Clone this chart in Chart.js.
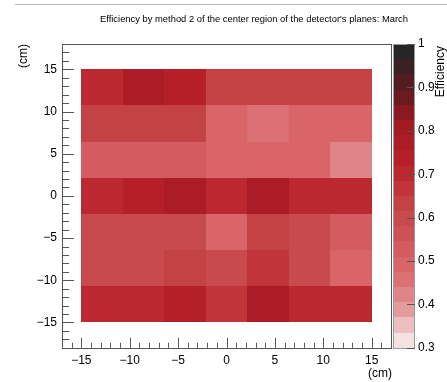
<!DOCTYPE html>
<html>
<head>
<meta charset="utf-8">
<script src="https://cdn.jsdelivr.net/npm/chart.js@4/dist/chart.umd.min.js"></script>
<style>
  html, body { margin: 0; padding: 0; background: #fff; }
  #wrap { width: 447px; height: 382px; position: relative; }
</style>
</head>
<body>
<div id="wrap"><canvas id="effMap"></canvas></div>
<script>
const titleText = "Efficiency by method 2 of the center region of the detector's planes: March";

// 7x7 bins covering -15..15 cm in both directions
const binRange = [-15, 15];
const nBins = 7;

// efficiency per bin, rows from top (y = +15) down, columns from x = -15
const efficiency = [
  [0.70, 0.77, 0.74, 0.63, 0.63, 0.63, 0.63],
  [0.63, 0.63, 0.63, 0.50, 0.46, 0.50, 0.50],
  [0.54, 0.54, 0.54, 0.50, 0.50, 0.50, 0.42],
  [0.70, 0.74, 0.77, 0.70, 0.77, 0.70, 0.70],
  [0.60, 0.60, 0.60, 0.50, 0.63, 0.60, 0.54],
  [0.60, 0.60, 0.63, 0.60, 0.67, 0.60, 0.50],
  [0.70, 0.70, 0.74, 0.67, 0.77, 0.70, 0.70]
];

const xTicks = [-15, -10, -5, 0, 5, 10, 15];
const yTicks = [-15, -10, -5, 0, 5, 10, 15];
const zTicks = [0.3, 0.4, 0.5, 0.6, 0.7, 0.8, 0.9, 1];
const zRange = [0.3, 1];

// 20 contour colours, light pink -> red -> near black
const palette = [
  '#f5e1e2', '#ebbfc0', '#e49b9d', '#df8488', '#dc7175',
  '#d96569', '#d45b5f', '#ce5155', '#c94a4d', '#c54244',
  '#c0343a', '#bc2830', '#b51f28', '#ab1c26', '#a01b22',
  '#891a21', '#6b1b20', '#521c21', '#3b2123', '#262626'
];

const FONT = "'Liberation Sans', Arial, Helvetica, sans-serif";
const LINE = '#555';

function colorFor(v) {
  const f = (v - zRange[0]) / (zRange[1] - zRange[0]);
  let i = Math.floor(f * palette.length);
  i = Math.max(0, Math.min(palette.length - 1, i));
  return palette[i];
}

const binW = (binRange[1] - binRange[0]) / nBins;
const cells = [];
efficiency.forEach((row, r) => {
  row.forEach((v, c) => {
    const x0 = binRange[0] + c * binW;
    const y1 = binRange[1] - r * binW;
    cells.push({ x: x0 + binW / 2, y: y1 - binW / 2, x0: x0, x1: x0 + binW, y0: y1 - binW, y1: y1, v: v });
  });
});

const fmtMinus = v => (v < 0 ? '\u2212' + Math.abs(v) : String(v));

const colzPlugin = {
  id: 'colz',
  beforeDatasetsDraw(chart) {
    const { ctx, scales: { x, y } } = chart;
    ctx.save();
    chart.data.datasets[0].data.forEach(c => {
      const l = Math.round(x.getPixelForValue(c.x0));
      const r = Math.round(x.getPixelForValue(c.x1));
      const t = Math.round(y.getPixelForValue(c.y1));
      const b = Math.round(y.getPixelForValue(c.y0));
      ctx.fillStyle = colorFor(c.v);
      ctx.fillRect(l, t, r - l, b - t);
    });
    ctx.restore();
  },
  afterDraw(chart) {
    const { ctx, chartArea: a, scales: { x, y, z } } = chart;
    ctx.save();

    // top rule
    ctx.strokeStyle = '#bbb';
    ctx.lineWidth = 1;
    ctx.beginPath();
    ctx.moveTo(15, 4.5);
    ctx.lineTo(447, 4.5);
    ctx.stroke();

    // frame
    ctx.strokeStyle = LINE;
    ctx.strokeRect(Math.round(a.left) + 0.5, Math.round(a.top) + 0.5,
      Math.round(a.right - a.left), Math.round(a.bottom - a.top));

    // x ticks, pointing into the frame
    ctx.beginPath();
    for (let v = Math.ceil(x.min); v <= x.max; v++) {
      const px = Math.round(x.getPixelForValue(v)) + 0.5;
      const len = xTicks.includes(v) ? 10 : 5;
      ctx.moveTo(px, a.bottom);
      ctx.lineTo(px, a.bottom - len);
    }
    // y ticks
    for (let v = Math.ceil(y.min); v <= y.max; v++) {
      const py = Math.round(y.getPixelForValue(v)) + 0.5;
      const len = yTicks.includes(v) ? 12 : 7;
      ctx.moveTo(a.left, py);
      ctx.lineTo(a.left + len, py);
    }
    ctx.stroke();

    // colour scale
    const cbL = 393, cbR = 415;
    const step = (zRange[1] - zRange[0]) / palette.length;
    palette.forEach((col, i) => {
      const t = Math.round(z.getPixelForValue(zRange[0] + (i + 1) * step));
      const b = Math.round(z.getPixelForValue(zRange[0] + i * step));
      ctx.fillStyle = col;
      ctx.fillRect(cbL, t, cbR - cbL, b - t);
    });
    ctx.strokeStyle = '#999';
    ctx.strokeRect(cbL + 0.5, Math.round(a.top) + 0.5, cbR - cbL - 1, Math.round(a.bottom - a.top));
    ctx.strokeStyle = LINE;
    ctx.beginPath();
    zTicks.forEach(v => {
      const py = Math.round(z.getPixelForValue(v)) + 0.5;
      ctx.moveTo(cbR, py);
      ctx.lineTo(cbR - 8, py);
    });
    ctx.stroke();

    // texts
    ctx.fillStyle = '#000';
    ctx.font = '9.4px ' + FONT;
    ctx.textAlign = 'center';
    ctx.textBaseline = 'middle';
    ctx.fillText(titleText, 254, 19);

    ctx.font = '12px ' + FONT;
    ctx.textAlign = 'right';
    ctx.fillText('(cm)', a.right + 1, 374);

    ctx.save();
    ctx.translate(24, a.top);
    ctx.rotate(-Math.PI / 2);
    ctx.textAlign = 'right';
    ctx.fillText('(cm)', 0, 0);
    ctx.restore();

    ctx.save();
    ctx.translate(441, a.top + 2);
    ctx.rotate(-Math.PI / 2);
    ctx.textAlign = 'right';
    ctx.fillText('Efficiency', 0, 0);
    ctx.restore();

    ctx.restore();
  }
};

new Chart(document.getElementById('effMap'), {
  type: 'scatter',
  data: {
    datasets: [{
      label: 'Efficiency',
      data: cells,
      pointRadius: 0,
      pointHoverRadius: 0
    }]
  },
  options: {
    responsive: true,
    maintainAspectRatio: false,
    animation: false,
    events: [],
    layout: { padding: { top: 44, left: 0, right: 0, bottom: 0 } },
    plugins: { legend: { display: false }, tooltip: { enabled: false }, title: { display: false } },
    scales: {
      x: {
        type: 'linear', min: -17, max: 17,
        grid: { display: false, drawTicks: false },
        border: { display: false },
        afterBuildTicks: s => { s.ticks = xTicks.map(v => ({ value: v })); },
        afterFit: s => { s.height = 30; },
        ticks: { padding: 6, color: '#000', font: { family: FONT, size: 12 }, maxRotation: 0, callback: fmtMinus }
      },
      y: {
        type: 'linear', min: -18, max: 18,
        grid: { display: false, drawTicks: false },
        border: { display: false },
        afterBuildTicks: s => { s.ticks = yTicks.map(v => ({ value: v })); },
        afterFit: s => { s.width = 62; },
        ticks: { padding: 5, color: '#000', font: { family: FONT, size: 12 }, callback: fmtMinus }
      },
      z: {
        type: 'linear', position: 'right', min: zRange[0], max: zRange[1],
        grid: { display: false, drawTicks: false },
        border: { display: false },
        afterBuildTicks: s => { s.ticks = zTicks.map(v => ({ value: v })); },
        afterFit: s => { s.width = 56; },
        ticks: { padding: 27, color: '#000', font: { family: FONT, size: 12 },
          callback: v => (v === 1 ? '1' : v.toFixed(1)) }
      }
    }
  },
  plugins: [colzPlugin]
});
</script>
</body>
</html>
